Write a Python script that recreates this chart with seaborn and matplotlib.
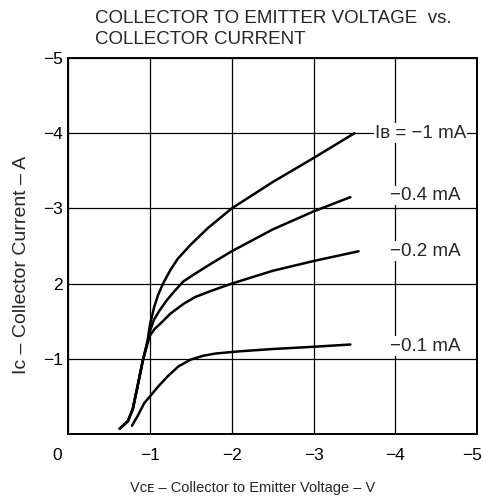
import numpy as np
import pandas as pd
import matplotlib
matplotlib.use("Agg")
import matplotlib.pyplot as plt
import matplotlib.transforms as mtransforms
import seaborn as sns

# curves (V, A), all negative
vce_1ma = [-0.63, -0.73, -0.79, -0.85, -0.91, -0.97, -1.0, -1.05, -1.1, -1.16, -1.25,
           -1.34, -1.5, -1.71, -2.0, -2.5, -3.0, -3.5]
ic_1ma = [-0.07, -0.17, -0.33, -0.64, -0.96, -1.23, -1.45, -1.68, -1.85, -2.0, -2.18,
          -2.33, -2.52, -2.74, -3.0, -3.35, -3.67, -4.0]

vce_04ma = [-0.63, -0.73, -0.79, -0.85, -0.91, -0.97, -1.0, -1.05, -1.11, -1.2, -1.3,
            -1.41, -1.55, -1.74, -2.0, -2.5, -3.0, -3.45]
ic_04ma = [-0.07, -0.17, -0.33, -0.64, -0.96, -1.23, -1.37, -1.52, -1.63, -1.77, -1.9,
           -2.03, -2.13, -2.26, -2.43, -2.72, -2.96, -3.15]

vce_02ma = [-0.63, -0.73, -0.79, -0.85, -0.91, -0.97, -1.0, -1.06, -1.13, -1.25, -1.41,
            -1.55, -1.74, -2.0, -2.5, -3.0, -3.55]
ic_02ma = [-0.07, -0.17, -0.33, -0.64, -0.96, -1.2, -1.31, -1.4, -1.47, -1.6, -1.73,
           -1.82, -1.9, -2.0, -2.17, -2.3, -2.43]

vce_01ma = [-0.78, -0.85, -0.93, -1.0, -1.1, -1.22, -1.35, -1.5, -1.65, -1.8, -2.1,
            -2.5, -3.0, -3.45]
ic_01ma = [-0.11, -0.24, -0.41, -0.5, -0.63, -0.77, -0.9, -0.99, -1.04, -1.07, -1.1,
           -1.13, -1.16, -1.19]

curve_labels = ['Iʙ = −1 mA', '−0.4 mA', '−0.2 mA', '−0.1 mA']
label_y = [-4.0, -3.17, -2.43, -1.17]

x_ticks = [0, -1, -2, -3, -4, -5]
x_ticklabels = ['0', '−1', '−2', '−3', '−4', '−5']
y_ticks = [-1, -2, -3, -4, -5]
y_ticklabels = ['−1', '2', '−3', '−4', '−5']

frames = []
for lab, xs, ys in zip(curve_labels, [vce_1ma, vce_04ma, vce_02ma, vce_01ma],
                       [ic_1ma, ic_04ma, ic_02ma, ic_01ma]):
    frames.append(pd.DataFrame({'vce': xs, 'ic': ys, 'ib': lab}))
df = pd.concat(frames, ignore_index=True)

sns.set_style('white')
plt.rcParams['font.family'] = ['Liberation Sans', 'DejaVu Sans']

fig = plt.figure(figsize=(4.83, 5.0), dpi=100)
ax = fig.add_axes([0.141, 0.132, 0.847, 0.752])

sns.lineplot(data=df, x='vce', y='ic', hue='ib', palette=['black'] * 4,
             sort=False, estimator=None, legend=False, linewidth=1.8, ax=ax)

ax.set_xlim(0, -5)
ax.set_ylim(0, -5)
ax.set_xticks(x_ticks)
ax.set_xticklabels(x_ticklabels)
ax.set_yticks(y_ticks)
ax.set_yticklabels(y_ticklabels)
ax.tick_params(length=0, labelsize=12.5, colors='black')
ax.tick_params(axis='x', pad=10)
ax.tick_params(axis='y', pad=4)
# origin label sits a bit left of the corner, last one nudged inside the figure
xls = ax.get_xticklabels()
for lbl, dx in [(xls[0], -8), (xls[-1], -4)]:
    off = mtransforms.ScaledTranslation(dx / 72, 0, fig.dpi_scale_trans)
    lbl.set_transform(lbl.get_transform() + off)

ax.grid(True, color='black', linewidth=0.9)
for s in ax.spines.values():
    s.set_color('black')
    s.set_linewidth(1.4)

for lab, yv in zip(curve_labels, label_y):
    x0 = -3.75 if lab.startswith('I') else -3.93
    ax.text(x0, yv, lab, fontsize=13.5, va='center', ha='left',
            bbox=dict(facecolor='white', edgecolor='none', pad=1))

ax.set_xlabel('Vᴄᴇ – Collector to Emitter Voltage – V', fontsize=10.5)
ax.set_ylabel('Iᴄ – Collector Current – A', fontsize=14)
ax.xaxis.set_label_coords(0.451, -0.125)
ax.yaxis.set_label_coords(-0.093, 0.45)

fig.text(0.197, 0.963, 'COLLECTOR TO EMITTER VOLTAGE  vs.', fontsize=13.5,
         va='center', ha='left')
fig.text(0.197, 0.921, 'COLLECTOR CURRENT', fontsize=13.5, va='center', ha='left')

plt.savefig('out.png', dpi=100)
